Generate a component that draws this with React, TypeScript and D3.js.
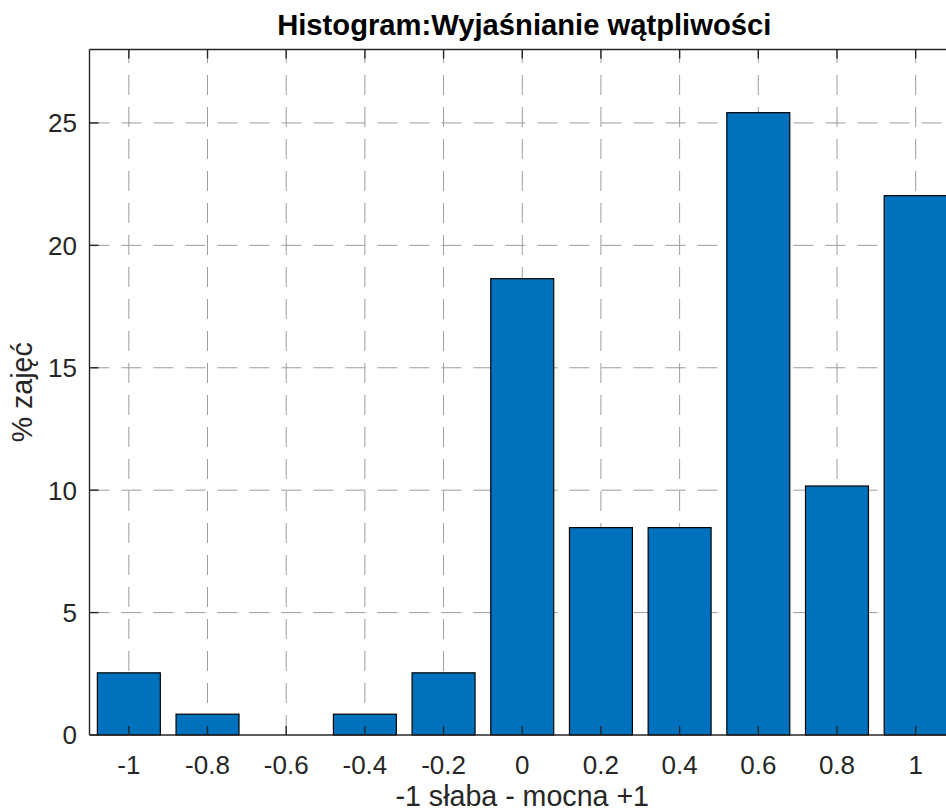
import React from "react";
import * as d3 from "d3";

// Share of classes (%) for each rating bin, from -1 (weak) to +1 (strong)
const categories: number[] = [-1, -0.8, -0.6, -0.4, -0.2, 0, 0.2, 0.4, 0.6, 0.8, 1];
const percentages: number[] = [2.54, 0.85, 0, 0.85, 2.54, 18.64, 8.47, 8.47, 25.42, 10.17, 22.03];
const xTickLabels: string[] = ["-1", "-0.8", "-0.6", "-0.4", "-0.2", "0", "0.2", "0.4", "0.6", "0.8", "1"];
const yTicks: number[] = [0, 5, 10, 15, 20, 25];

const titleText = "Histogram:Wyjaśnianie wątpliwości";
const xLabelText = "-1 słaba - mocna +1";
const yLabelText = "% zajęć";

const W = 946;
const H = 812;
const FONT = "'Liberation Sans', Arial, Helvetica, sans-serif";
const AXIS = "#262626";
const GRID = "#9c9c9c";
const BAR = "#0072BD";

export default function App() {
  const left = 89.5;
  const right = 955;
  const top = 49.5;
  const bottom = 735;

  const x = d3.scaleLinear().domain([-1.1, 1.1]).range([left, right]);
  const y = d3.scaleLinear().domain([0, 28]).range([bottom, top]);
  const barW = (x(0.2) - x(0)) * 0.8;
  const tickLen = 9;
  const midX = x(0);
  const midY = (top + bottom) / 2;

  return (
    <svg
      width={W}
      height={H}
      style={{ position: "absolute", left: 0, top: 0, background: "#fff" }}
      fontFamily={FONT}
    >
      <rect x={0} y={0} width={W} height={H} fill="#fff" />

      {/* dashed grid */}
      <g stroke={GRID} strokeWidth={1} strokeDasharray="20 12">
        {categories.map((c) => (
          <line key={`gx${c}`} x1={x(c)} x2={x(c)} y1={bottom} y2={top} />
        ))}
        {yTicks.filter((t) => t > 0).map((t) => (
          <line key={`gy${t}`} x1={left} x2={right} y1={y(t)} y2={y(t)} />
        ))}
      </g>

      {/* bars */}
      <g fill={BAR} stroke="#000" strokeWidth={1.2}>
        {categories.map((c, i) => (
          <rect
            key={`b${c}`}
            x={x(c) - barW / 2}
            y={y(percentages[i])}
            width={barW}
            height={y(0) - y(percentages[i])}
          />
        ))}
      </g>

      {/* axes box */}
      <g stroke={AXIS} strokeWidth={1.4} fill="none">
        <line x1={left} x2={right} y1={bottom} y2={bottom} />
        <line x1={left} x2={right} y1={top} y2={top} />
        <line x1={left} x2={left} y1={top} y2={bottom} />
      </g>

      {/* tick marks (inward) */}
      <g stroke={AXIS} strokeWidth={1.4}>
        {categories.map((c) => (
          <g key={`tx${c}`}>
            <line x1={x(c)} x2={x(c)} y1={bottom} y2={bottom - tickLen} />
            <line x1={x(c)} x2={x(c)} y1={top} y2={top + tickLen} />
          </g>
        ))}
        {yTicks.map((t) => (
          <line key={`ty${t}`} x1={left} x2={left + tickLen} y1={y(t)} y2={y(t)} />
        ))}
      </g>

      {/* tick labels */}
      <g fill={AXIS} fontSize={26}>
        {categories.map((c, i) => (
          <text key={`lx${c}`} x={x(c)} y={774} textAnchor="middle">
            {xTickLabels[i]}
          </text>
        ))}
        {yTicks.map((t) => (
          <text key={`ly${t}`} x={77} y={y(t)} dy="0.36em" textAnchor="end">
            {t}
          </text>
        ))}
      </g>

      {/* title and axis labels */}
      <text x={midX + 2} y={35} textAnchor="middle" fontSize={29.2} fontWeight="bold" fill="#000">
        {titleText}
      </text>
      <text x={midX} y={806} textAnchor="middle" fontSize={28.6} fill={AXIS}>
        {xLabelText}
      </text>
      <text
        transform={`translate(32,${midY}) rotate(-90)`}
        textAnchor="middle"
        fontSize={28.6}
        fill={AXIS}
      >
        {yLabelText}
      </text>
    </svg>
  );
}
